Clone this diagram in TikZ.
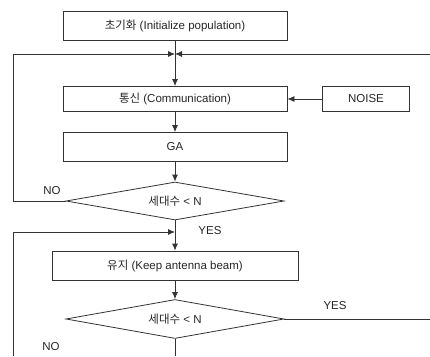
\documentclass[tikz,border=0pt]{standalone}
\usepackage{fontspec}
\setmainfont{Liberation Sans}
\newfontfamily\kr{Noto Sans CJK KR}
\usetikzlibrary{shapes.geometric,arrows.meta}
\begin{document}
\begin{tikzpicture}[x=1pt,y=-1pt,
  every node/.style={font=\fontsize{11.5}{13}\selectfont, text=black!85},
  ln/.style={draw=black!80, line width=0.8pt},
  arr/.style={ln, -{Latex[length=7pt,width=6pt]}},
  procbox/.style={ln, rectangle, minimum height=29pt, inner sep=0pt},
  decide/.style={ln, diamond, minimum width=218pt, minimum height=38pt, inner sep=0pt, aspect=5.7},
  lbl/.style={inner sep=0pt}]
\useasboundingbox (0,0) rectangle (430,356);
\node[procbox, minimum width=224pt] (init) at (175,26) {{\kr 초기화} (Initialize population)};
\node[procbox, minimum width=224pt, minimum height=25pt] (comm) at (175,99) {{\kr 통신} (Communication)};
\node[procbox, minimum width=87pt, minimum height=25pt] (noise) at (366,99) {NOISE};
\node[procbox, minimum width=224pt] (ga) at (175,147) {GA};
\node[decide] (d1) at (175,201) {{\kr 세대수} < N};
\node[procbox, minimum width=246pt] (keep) at (175,265.5) {{\kr 유지} (Keep antenna beam)};
\node[decide, minimum height=39pt] (d2) at (175,319) {{\kr 세대수} < N};
\coordinate (j1) at (175,54);
\coordinate (j2) at (175,232);
\coordinate (l1) at (13,201);
\coordinate (l1t) at (13,54);
\coordinate (r1) at (430,54);
\coordinate (l2b) at (13,356);
\coordinate (l2t) at (13,232);
\coordinate (r2) at (430,319);
\coordinate (b2) at (175,356);
\draw[ln] (init.south) -- (j1);
\draw[arr] (j1) -- (comm.north);
\draw[arr] (d1.west) -- (l1) -- (l1t) -- (j1);
\draw[arr] (r1) -- (j1);
\draw[arr] (noise.west) -- (comm.east);
\draw[arr] (comm.south) -- (ga.north);
\draw[arr] (ga.south) -- (d1.north);
\draw[arr] (d1.south) -- (keep.north);
\draw[arr] (l2b) -- (l2t) -- (j2);
\draw[arr] (keep.south) -- (d2.north);
\draw[ln] (d2.east) -- (r2);
\draw[ln] (d2.south) -- (b2);
\node[lbl] (no1) at (52,191) {NO};
\node[lbl] (yes1) at (210,231) {YES};
\node[lbl] (yes2) at (335,306) {YES};
\node[lbl] (no2) at (51,347) {NO};
\end{tikzpicture}
\end{document}
